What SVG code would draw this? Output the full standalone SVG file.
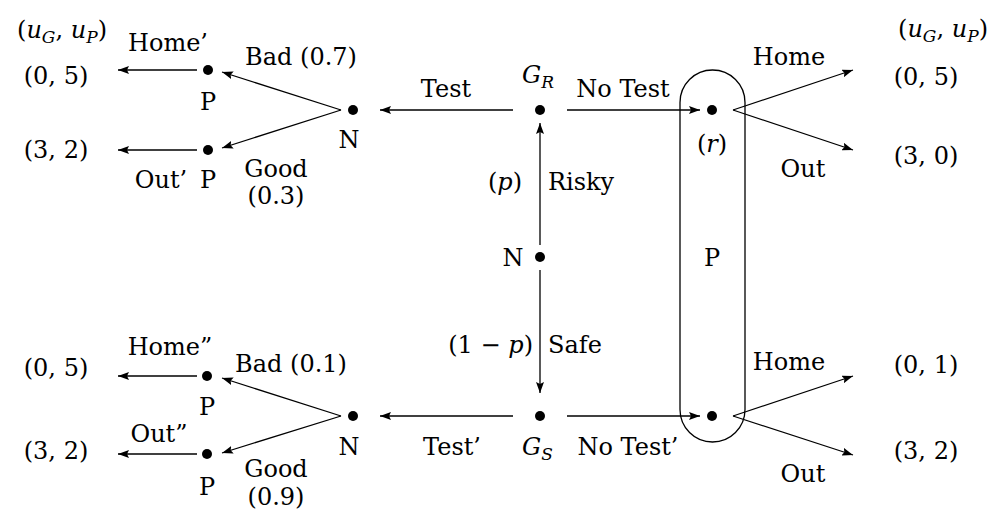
<svg xmlns="http://www.w3.org/2000/svg" width="1005" height="515" viewBox="0 0 1005 515">
  <style>
    text { font-family: "DejaVu Serif", "Liberation Serif", serif; font-size: 24px; fill: #000; }
    .c { text-anchor: middle; }
    .e { text-anchor: end; }
    .i { font-style: italic; }
    .sub { font-style: italic; font-size: 17px; }
    .edge { stroke: #000; stroke-width: 1.3; fill: none; marker-end: url(#arrow); }
    .dot { fill: #000; }
    .info { fill: none; stroke: #000; stroke-width: 1.3; }
  </style>
  <defs>
    <marker id="arrow" markerUnits="userSpaceOnUse" markerWidth="12" markerHeight="8" refX="11" refY="4" orient="auto">
      <path d="M0,0 L11,4 L0,8 L2,4 z" fill="#000"/>
    </marker>
  </defs>

  <rect fill="#fff" x="0" y="0" width="1005" height="515"/>

  <!-- information set of the patient -->
  <g id="infoset">
    <rect class="info" x="680" y="70" width="65" height="372" rx="32.5" ry="32.5"/>
    <text class="c" x="712" y="266">P</text>
  </g>

  <!-- connectors -->
  <g id="connectors">
    <!-- nature to doctor types -->
    <line class="edge" x1="540" y1="245" x2="540" y2="123"/>
    <line class="edge" x1="540" y1="270" x2="540" y2="393"/>
    <!-- risky doctor -->
    <line class="edge" x1="513" y1="110" x2="380" y2="110"/>
    <line class="edge" x1="567" y1="110" x2="700" y2="110"/>
    <!-- safe doctor -->
    <line class="edge" x1="513" y1="416" x2="380" y2="416"/>
    <line class="edge" x1="567" y1="416" x2="700" y2="416"/>
    <!-- test result, upper -->
    <line class="edge" x1="341" y1="110" x2="222" y2="72"/>
    <line class="edge" x1="341" y1="110" x2="222" y2="148"/>
    <line class="edge" x1="197" y1="70" x2="118" y2="70"/>
    <line class="edge" x1="197" y1="150" x2="118" y2="150"/>
    <!-- test result, lower -->
    <line class="edge" x1="341" y1="416" x2="222" y2="378"/>
    <line class="edge" x1="341" y1="416" x2="222" y2="453"/>
    <line class="edge" x1="197" y1="376" x2="118" y2="376"/>
    <line class="edge" x1="197" y1="454" x2="118" y2="454"/>
    <!-- no-test patient choices -->
    <line class="edge" x1="733" y1="110" x2="853" y2="70"/>
    <line class="edge" x1="733" y1="110" x2="853" y2="150"/>
    <line class="edge" x1="733" y1="416" x2="853" y2="376"/>
    <line class="edge" x1="733" y1="416" x2="853" y2="455"/>
  </g>

  <!-- edge labels -->
  <g id="edge-labels">
    <text class="c" x="446" y="97">Test</text>
    <text class="c" x="623" y="97">No Test</text>
    <text class="e" x="522" y="190">(<tspan class="i">p</tspan>)</text>
    <text x="548" y="190">Risky</text>
    <text class="e" x="533" y="353">(1 − <tspan class="i">p</tspan>)</text>
    <text x="548" y="353">Safe</text>
    <text class="c" x="452" y="455">Test’</text>
    <text class="c" x="628" y="455">No Test’</text>

    <text class="c" x="168" y="51">Home’</text>
    <text class="c" x="301" y="65">Bad (0.7)</text>
    <text class="c" x="161" y="188">Out’</text>
    <text class="c" x="276" y="177">Good</text>
    <text class="c" x="276" y="204">(0.3)</text>

    <text class="c" x="170" y="355">Home”</text>
    <text class="c" x="291" y="372">Bad (0.1)</text>
    <text class="c" x="159" y="442">Out”</text>
    <text class="c" x="276" y="477">Good</text>
    <text class="c" x="276" y="505">(0.9)</text>

    <text class="c" x="789" y="65">Home</text>
    <text class="c" x="803" y="177">Out</text>
    <text class="c" x="789" y="370">Home</text>
    <text class="c" x="803" y="482">Out</text>
  </g>

  <!-- decision and chance nodes -->
  <g id="nature-root">
    <circle class="dot" cx="540" cy="257" r="5"/>
    <text class="c" x="513" y="266">N</text>
  </g>
  <g id="doctor-risky">
    <circle class="dot" cx="540" cy="110" r="5"/>
    <text x="522" y="83"><tspan class="i">G</tspan><tspan class="sub" dy="5">R</tspan></text>
  </g>
  <g id="doctor-safe">
    <circle class="dot" cx="540" cy="416" r="5"/>
    <text x="522" y="455"><tspan class="i">G</tspan><tspan class="sub" dy="5">S</tspan></text>
  </g>
  <g id="nature-test-risky">
    <circle class="dot" cx="353" cy="110" r="5"/>
    <text class="c" x="349" y="148">N</text>
  </g>
  <g id="nature-test-safe">
    <circle class="dot" cx="353" cy="416" r="5"/>
    <text class="c" x="349" y="455">N</text>
  </g>
  <g id="patient-bad-risky">
    <circle class="dot" cx="208" cy="70" r="5"/>
    <text class="c" x="208" y="110">P</text>
  </g>
  <g id="patient-good-risky">
    <circle class="dot" cx="208" cy="150" r="5"/>
    <text class="c" x="208" y="188">P</text>
  </g>
  <g id="patient-bad-safe">
    <circle class="dot" cx="207" cy="376" r="5"/>
    <text class="c" x="207" y="415">P</text>
  </g>
  <g id="patient-good-safe">
    <circle class="dot" cx="207" cy="454" r="5"/>
    <text class="c" x="207" y="495">P</text>
  </g>
  <g id="patient-notest-risky">
    <circle class="dot" cx="712" cy="110" r="5"/>
    <text class="c" x="712" y="152">(<tspan class="i">r</tspan>)</text>
  </g>
  <g id="patient-notest-safe">
    <circle class="dot" cx="712" cy="416" r="5"/>
  </g>

  <!-- payoffs -->
  <g id="payoffs-left">
    <text class="c" x="62" y="38">(<tspan class="i">u</tspan><tspan class="sub" dy="5">G</tspan><tspan dy="-5">, </tspan><tspan class="i">u</tspan><tspan class="sub" dy="5">P</tspan><tspan dy="-5">)</tspan></text>
    <text class="c" x="56" y="84">(0, 5)</text>
    <text class="c" x="56" y="158">(3, 2)</text>
    <text class="c" x="56" y="376">(0, 5)</text>
    <text class="c" x="56" y="459">(3, 2)</text>
  </g>
  <g id="payoffs-right">
    <text class="c" x="943" y="37">(<tspan class="i">u</tspan><tspan class="sub" dy="5">G</tspan><tspan dy="-5">, </tspan><tspan class="i">u</tspan><tspan class="sub" dy="5">P</tspan><tspan dy="-5">)</tspan></text>
    <text class="c" x="926" y="85">(0, 5)</text>
    <text class="c" x="926" y="164">(3, 0)</text>
    <text class="c" x="926" y="373">(0, 1)</text>
    <text class="c" x="926" y="459">(3, 2)</text>
  </g>
</svg>
